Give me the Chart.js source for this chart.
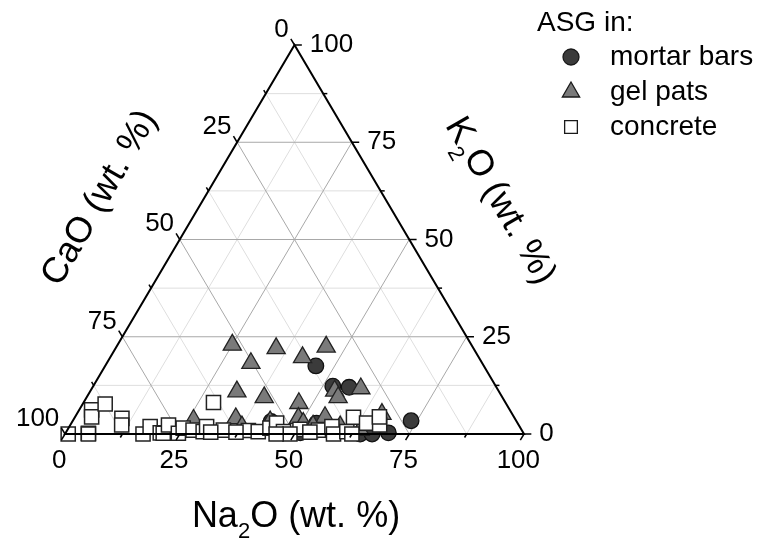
<!DOCTYPE html>
<html>
<head>
<meta charset="utf-8">
<script src="https://cdn.jsdelivr.net/npm/chart.js@4.4.0/dist/chart.umd.min.js"></script>
<style>
  body { margin: 0; background: #fff; }
  canvas { display: block; }
</style>
</head>
<body>
<canvas id="myChart" width="760" height="541"></canvas>
<script>
// ternary axes: Na2O (bottom), K2O (right), CaO (left) -- CaO = 100 - Na2O - K2O
const tickValues = [0, 12.5, 25, 37.5, 50, 62.5, 75, 87.5, 100];
const tickLabels = ["0", "", "25", "", "50", "", "75", "", "100"];
const gridValues = [12.5, 25, 37.5, 50, 62.5, 75, 87.5];

const mortarNa2O = [45.9, 52.2, 55.9, 73.7, 43.3, 51.1, 54.4, 58.9, 64.3, 66.9, 70.3, 53.4];
const mortarK2O  = [17.5, 12.3, 12.0, 3.4, 3.2, 0.3, 1.0, 0.8, 0.0, 0.0, 0.3, 2.8];

const gelNa2O = [25.0, 35.0, 45.7, 41.9, 31.4, 32.0, 38.7, 47.0, 53.2, 54.8, 58.6, 26.2, 35.2, 43.1, 48.8, 54.5, 66.5, 63.8, 50.5, 37.6, 59.0, 53.0];
const gelK2O  = [22.9, 22.0, 22.4, 19.7, 18.2, 10.9, 9.4, 7.9, 11.1, 9.4, 11.7, 3.6, 4.0, 3.2, 4.1, 4.3, 5.1, 1.0, 2.8, 1.9, 1.9, 2.1];

const concreteNa2O = [0.7, 5.0, 5.1, 2.7, 3.6, 4.9, 10.4, 11.2, 17.0, 17.6, 20.6, 21.3, 21.4, 24.6, 25.0, 27.4, 29.8, 28.3, 34.0,
  29.9, 39.5, 41.8, 43.9, 44.7, 47.3, 50.6, 54.7, 57.2, 58.5, 61.1, 60.7, 64.3, 67.4, 66.3, 37.0, 49.0, 53.1, 62.5, 46.0, 31.5];
const concreteK2O  = [0.0, 0.2, 0.0, 6.2, 4.4, 7.7, 4.0, 2.3, 0.0, 1.9, 0.3, 0.2, 2.3, 0.2, 1.5, 1.0, 0.6, 8.1, 1.0,
  1.9, 0.9, 0.6, 1.5, 2.8, 0.6, 1.2, 1.0, 1.9, 0.0, 0.6, 4.3, 2.8, 2.3, 4.4, 0.5, 0.0, 0.5, 0.0, 0.0, 0.5];

function toXY(na, k) {
  return na.map((n, i) => ({ x: n + k[i] / 2, y: k[i] }));
}

const FONT = '"Liberation Sans", Arial, sans-serif';

function makePt(chart) {
  const xs = chart.scales.x, ys = chart.scales.y;
  return (n, k) => ({ x: xs.getPixelForValue(n + k / 2), y: ys.getPixelForValue(k) });
}

function line(ctx, a, b) {
  ctx.beginPath();
  ctx.moveTo(a.x, a.y);
  ctx.lineTo(b.x, b.y);
  ctx.stroke();
}

function drawTitle(ctx, parts, cx, cy, angle, size) {
  ctx.save();
  ctx.translate(cx, cy);
  ctx.rotate(angle);
  const subSize = Math.round(size * 0.62);
  let total = 0;
  parts.forEach(p => {
    ctx.font = (p[1] ? subSize : size) + 'px ' + FONT;
    total += ctx.measureText(p[0]).width;
  });
  let x = -total / 2;
  ctx.textAlign = 'left';
  ctx.textBaseline = 'middle';
  ctx.fillStyle = '#000';
  parts.forEach(p => {
    ctx.font = (p[1] ? subSize : size) + 'px ' + FONT;
    ctx.fillText(p[0], x, p[1] ? size * 0.42 : 0);
    x += ctx.measureText(p[0]).width;
  });
  ctx.restore();
}

const ternaryPlugin = {
  id: 'ternary',
  beforeDatasetsDraw(chart) {
    const ctx = chart.ctx;
    const pt = makePt(chart);
    ctx.save();
    ctx.lineWidth = 1;
    [false, true].forEach(major => {
      ctx.strokeStyle = major ? '#a8a8a8' : '#dedede';
      gridValues.forEach(v => {
        if ((v % 25 === 0) !== major) return;
        line(ctx, pt(0, v), pt(100 - v, v));
        line(ctx, pt(v, 0), pt(v, 100 - v));
        line(ctx, pt(100 - v, 0), pt(0, 100 - v));
      });
    });
    ctx.restore();
  },
  afterDatasetsDraw(chart) {
    const ctx = chart.ctx;
    const pt = makePt(chart);
    ctx.save();
    ctx.strokeStyle = '#000';
    ctx.lineWidth = 2;
    ctx.beginPath();
    const a = pt(0, 0), b = pt(100, 0), c = pt(0, 100);
    ctx.moveTo(a.x, a.y); ctx.lineTo(b.x, b.y); ctx.lineTo(c.x, c.y); ctx.closePath();
    ctx.stroke();

    ctx.lineWidth = 1.5;
    ctx.fillStyle = '#000';
    ctx.font = '26px ' + FONT;
    tickValues.forEach((v, i) => {
      const t = tickLabels[i] ? 1.6 : 0.9;
      // bottom: Na2O
      let s = pt(v, 0), e = pt(v, -t);
      line(ctx, s, e);
      if (tickLabels[i]) {
        ctx.textAlign = 'center'; ctx.textBaseline = 'middle';
        ctx.fillText(tickLabels[i], e.x - 2, e.y + 21);
      }
      // right: K2O
      s = pt(100 - v, v); e = pt(100 - v + t, v);
      line(ctx, s, e);
      if (tickLabels[i]) {
        ctx.textAlign = 'left'; ctx.textBaseline = 'middle';
        ctx.fillText(tickLabels[i], e.x + 8, e.y);
      }
      // left: CaO
      s = pt(0, 100 - v); e = pt(-t, 100 - v + t);
      line(ctx, s, e);
      if (tickLabels[i]) {
        ctx.textAlign = 'right'; ctx.textBaseline = 'middle';
        ctx.fillText(tickLabels[i], e.x - 2, e.y - 9);
      }
    });

    drawTitle(ctx, [['Na', 0], ['2', 1], ['O (wt. %)', 0]], 296, 517, 0, 36);
    drawTitle(ctx, [['CaO (wt. %)', 0]], 100, 198, -Math.PI / 3, 36);
    drawTitle(ctx, [['K', 0], ['2', 1], ['O (wt. %)', 0]], 500, 201, Math.PI / 3, 36);

    // legend
    ctx.font = '28px ' + FONT;
    ctx.textAlign = 'left'; ctx.textBaseline = 'middle';
    ctx.fillText('ASG in:', 537, 23);
    const items = [
      ['mortar bars', 'circle', 8, '#3b3b3b', 57],
      ['gel pats', 'triangle', 10, '#7a7a7a', 92],
      ['concrete', 'rect', 9, '#ffffff', 127]
    ];
    items.forEach(it => {
      ctx.fillStyle = it[3];
      ctx.strokeStyle = '#1a1a1a';
      ctx.lineWidth = 1.3;
      Chart.helpers.drawPoint(ctx, { pointStyle: it[1], radius: it[2], rotation: 0, borderWidth: 1.3 }, 571, it[4]);
      ctx.fillStyle = '#000';
      ctx.fillText(it[0], 610, it[4]);
    });
    ctx.restore();
  }
};

const ctx = document.getElementById('myChart');
new Chart(ctx, {
  type: 'scatter',
  data: {
    datasets: [
      { label: 'mortar bars', data: toXY(mortarNa2O, mortarK2O), pointStyle: 'circle', pointRadius: 7.8,
        backgroundColor: '#3b3b3b', borderColor: '#111', borderWidth: 1.3, clip: false, order: 3 },
      { label: 'gel pats', data: toXY(gelNa2O, gelK2O), pointStyle: 'triangle', pointRadius: 10.5,
        backgroundColor: '#7a7a7a', borderColor: '#222', borderWidth: 1.3, clip: false, order: 2 },
      { label: 'concrete', data: toXY(concreteNa2O, concreteK2O), pointStyle: 'rect', pointRadius: 10,
        backgroundColor: '#ffffff', borderColor: '#222', borderWidth: 1.5, clip: false, order: 1 }
    ]
  },
  options: {
    responsive: false,
    animation: false,
    layout: { padding: { left: 65, right: 236, top: 45, bottom: 107 } },
    scales: {
      x: { type: 'linear', min: 0, max: 100, display: false },
      y: { type: 'linear', min: 0, max: 100, display: false }
    },
    plugins: {
      legend: { display: false },
      tooltip: { enabled: false }
    }
  },
  plugins: [ternaryPlugin]
});
</script>
</body>
</html>
